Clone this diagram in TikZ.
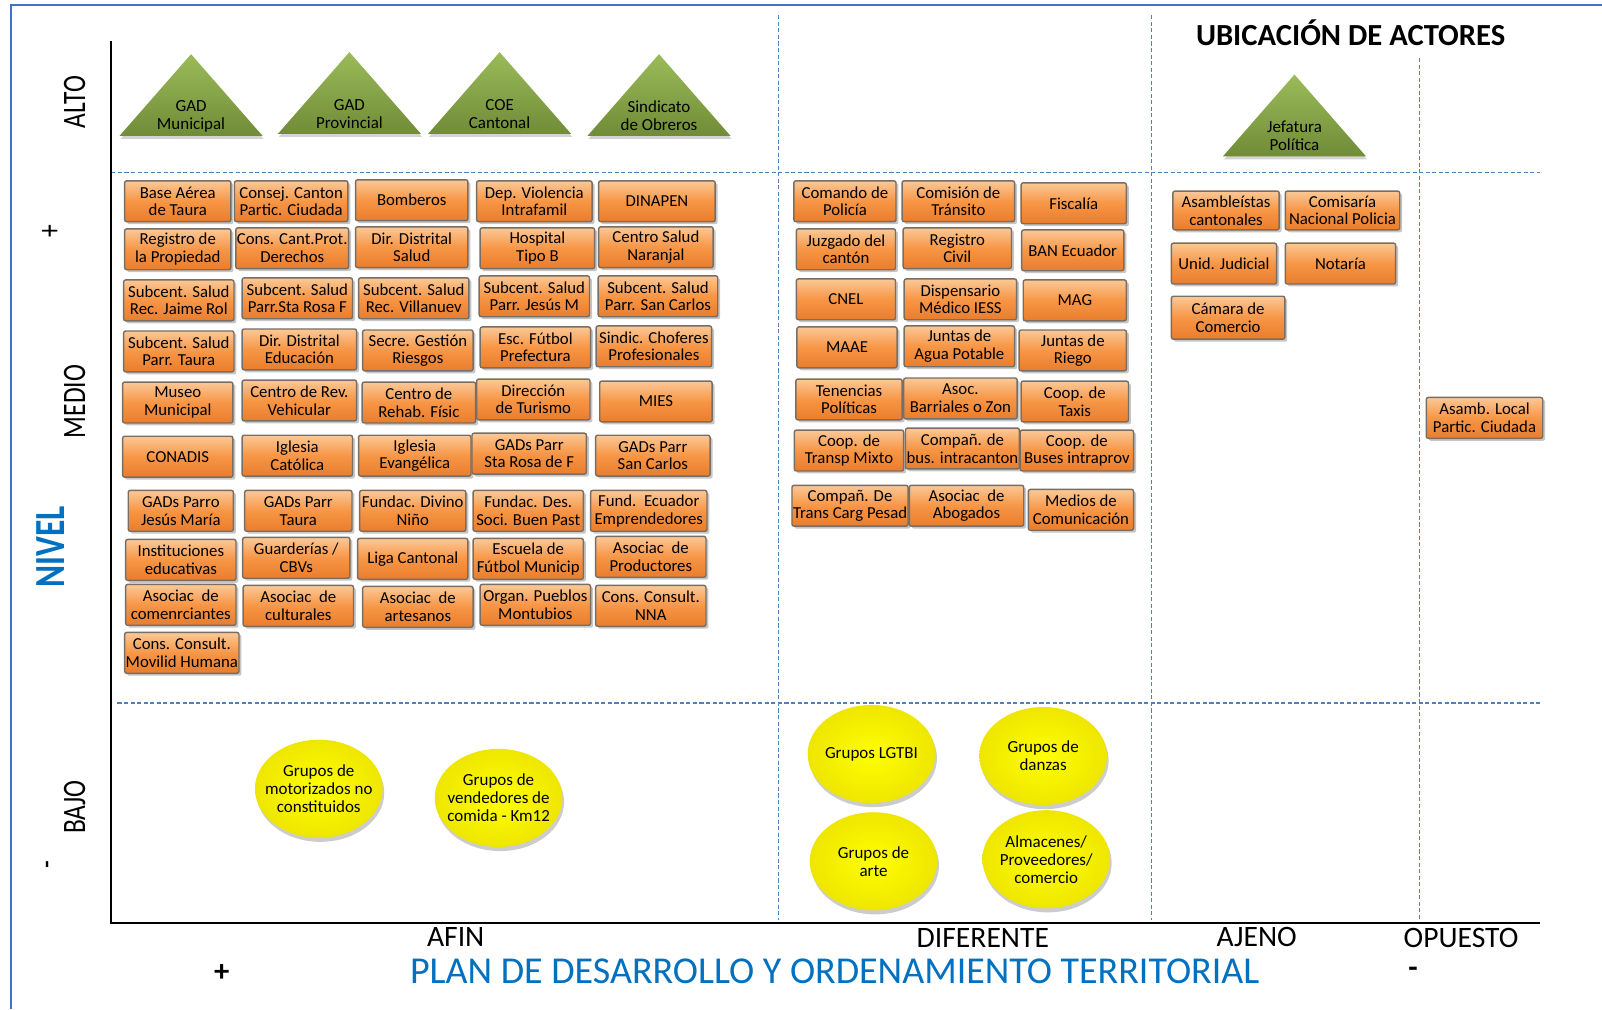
\documentclass[tikz,border=0pt]{standalone}
\usepackage{xcolor}
\usepackage{fontspec}
\setmainfont{Carlito}
\newfontfamily\narrowfont[FakeStretch=0.78]{Carlito}
\usepackage{tikz}
\usetikzlibrary{calc}
\usetikzlibrary{shapes.geometric}
\usetikzlibrary{shadows}

\definecolor{boxorange}{RGB}{247,150,70}
\definecolor{boxlight}{RGB}{251,200,150}
\definecolor{boxdark}{RGB}{232,125,45}
\definecolor{boxedge}{RGB}{120,110,100}
\definecolor{trigreen}{RGB}{112,140,55}
\definecolor{trilight}{RGB}{155,187,89}
\definecolor{gridblue}{RGB}{79,129,189}
\definecolor{titleblue}{RGB}{0,112,192}
\definecolor{frameblue}{RGB}{68,114,196}
\definecolor{groupedge}{RGB}{238,230,0}

\begin{document}
\begin{tikzpicture}[x=0.5pt,y=-0.5pt]
    \tikzstyle{axis}=[line width=1pt,color=black]
    \tikzstyle{grid}=[line width=0.6pt,color=gridblue,dash pattern=on 2pt off 1.2pt]
    \tikzstyle{actor}=[draw=boxedge,line width=0.7pt,rounded corners=1pt,
        top color=boxlight,bottom color=boxdark,middle color=boxorange,
        minimum width=54pt,minimum height=20pt,inner sep=0.5pt,align=center,
        font=\fontsize{8.2}{8.6}\selectfont,
        drop shadow={opacity=0.45,shadow xshift=1.2pt,shadow yshift=-1.2pt}]
    \tikzstyle{group}=[ellipse,inner color=yellow,outer color=groupedge,
        minimum width=62.5pt,minimum height=48pt,inner xsep=-7pt,inner ysep=-3pt,align=center,
        font=\fontsize{8.3}{8.8}\selectfont,
        drop shadow={opacity=0.4,shadow xshift=0.8pt,shadow yshift=-2pt}]
    \tikzstyle{tri}=[top color=trilight,bottom color=trigreen,
        drop shadow={opacity=0.35,shadow xshift=0.5pt,shadow yshift=-1.5pt}]
    \tikzstyle{tri text}=[align=center,font=\fontsize{8.3}{8.8}\selectfont]
    \tikzstyle{level text}=[rotate=90,font=\narrowfont\fontsize{16}{16}\selectfont]
    \tikzstyle{position text}=[font=\fontsize{14.5}{14.5}\selectfont]

    \useasboundingbox (0,0) rectangle (1568,988);

    % Frame
    \draw[frameblue,line width=0.8pt] (11,988) -- (11,5) -- (1568,5);

    \coordinate (origin) at (109,903);
    \coordinate (ytop) at (109,40);
    \coordinate (xend) at (1507,903);

    % Grid
    \draw[style=grid] (109,169) -- (1507,169);
    \draw[style=grid] (115,688) -- (1507,688);
    \draw[style=grid] (762,15) -- (762,900);
    \draw[style=grid] (1127,15) -- (1127,900);
    \draw[style=grid] (1389,57) -- (1389,900);

    % Axis
    \draw[style=axis] (ytop) -- (origin) -- (xend);

    \node[font=\bfseries\fontsize{15}{15}\selectfont] (title) at (1322,32) {UBICACIÓN DE ACTORES};

    % Level labels
    \node[style=level text] (alto) at (73,100) {ALTO};
    \node[style=level text] (mas) at (50,226) {+};
    \node[style=level text] (medio) at (73,393) {MEDIO};
    \node[style=level text,titleblue,font=\narrowfont\bfseries\fontsize{21}{21}\selectfont] (nivel) at (50,535) {NIVEL};
    \node[style=level text] (bajo) at (73,790) {BAJO};
    \node[style=level text] (menos) at (50,846) {-};

    % Position labels
    \node[style=position text] (afin) at (446,917) {AFIN};
    \node[style=position text] (diferente) at (962,918) {DIFERENTE};
    \node[style=position text] (ajeno) at (1230,917) {AJENO};
    \node[style=position text] (opuesto) at (1430,918) {OPUESTO};
    \node[style=position text,font=\bfseries\fontsize{15}{15}\selectfont] (masx) at (217,952) {+};
    \node[style=position text,font=\bfseries\fontsize{15}{15}\selectfont] (menosx) at (1383,952) {-};
    \node[titleblue,font=\fontsize{18.6}{18.6}\selectfont] (pdot) at (817,951) {PLAN DE DESARROLLO Y ORDENAMIENTO TERRITORIAL};

    % Alto
    \coordinate (gm) at (187,133);
    \coordinate (gp) at (342,131);
    \coordinate (coe) at (489,131);
    \coordinate (sin) at (645,133);
    \coordinate (jef) at (1267,153);
    \shade[style=tri] ($(gm)+(-70,0)$) -- ($(gm)+(0,-80)$) -- ($(gm)+(70,0)$) -- cycle;
    \shade[style=tri] ($(gp)+(-70,0)$) -- ($(gp)+(0,-80)$) -- ($(gp)+(70,0)$) -- cycle;
    \shade[style=tri] ($(coe)+(-70,0)$) -- ($(coe)+(0,-80)$) -- ($(coe)+(70,0)$) -- cycle;
    \shade[style=tri] ($(sin)+(-70,0)$) -- ($(sin)+(0,-80)$) -- ($(sin)+(70,0)$) -- cycle;
    \shade[style=tri] ($(jef)+(-70,0)$) -- ($(jef)+(0,-80)$) -- ($(jef)+(70,0)$) -- cycle;
    \node[style=tri text] (gmtext) at ($(gm)+(0,-19)$) {GAD\\Municipal};
    \node[style=tri text] (gptext) at ($(gp)+(0,-19)$) {GAD\\Provincial};
    \node[style=tri text] (coetext) at ($(coe)+(0,-19)$) {COE\\Cantonal};
    \node[style=tri text] (sintext) at ($(sin)+(0,-20)$) {Sindicato\\de Obreros};
    \node[style=tri text] (jeftext) at ($(jef)+(0,-20)$) {Jefatura\\Política};

    % Medio - afin
    \node[style=actor,minimum width=52pt] (af11) at (174,197) {Base Aérea\\de Taura};
    \node[style=actor,minimum width=55.5pt] (af12) at (285,197) {Consej. Canton\\Partic. Ciudada};
    \node[style=actor,minimum width=55pt] (af13) at (403,196) {Bomberos};
    \node[style=actor,minimum width=56.5pt] (af14) at (523,197) {Dep. Violencia\\Intrafamil};
    \node[style=actor,minimum width=57pt] (af15) at (643,197) {DINAPEN};

    \node[style=actor,minimum width=52pt] (af21) at (174,244) {Registro de\\la Propiedad};
    \node[style=actor] (af22) at (286,243) {Cons. Cant.Prot.\\Derechos};
    \node[style=actor,minimum width=55pt] (af23) at (403,242) {Dir. Distrital\\Salud};
    \node[style=actor,minimum width=56pt] (af24) at (526,243) {Hospital\\Tipo B};
    \node[style=actor,minimum width=56pt] (af25) at (642,242) {Centro Salud\\Naranjal};

    \node[style=actor] (af31) at (175,294) {Subcent. Salud\\Rec. Jaime Rol};
    \node[style=actor] (af32) at (291,292) {Subcent. Salud\\Parr.Sta Rosa F};
    \node[style=actor] (af33) at (405,292) {Subcent. Salud\\Rec. Villanuev};
    \node[style=actor] (af34) at (523,290) {Subcent. Salud\\Parr. Jesús M};
    \node[style=actor,minimum width=58.5pt] (af35) at (644,290) {Subcent. Salud\\Parr. San Carlos};

    \node[style=actor] (af41) at (175,344) {Subcent. Salud\\Parr. Taura};
    \node[style=actor,minimum width=56pt] (af42) at (293,342) {Dir. Distrital\\Educación};
    \node[style=actor] (af43) at (409,343) {Secre. Gestión\\Riesgos};
    \node[style=actor] (af44) at (524,340) {Esc. Fútbol\\Prefectura};
    \node[style=actor,minimum width=56.5pt] (af45) at (640,339) {Sindic. Choferes\\Profesionales};

    \node[style=actor] (af51) at (174,394) {Museo\\Municipal};
    \node[style=actor,minimum width=56pt] (af52) at (293,392) {Centro de Rev.\\Vehicular};
    \node[style=actor,minimum width=55.5pt] (af53) at (410,394) {Centro de\\Rehab. Físic};
    \node[style=actor,minimum width=55.5pt] (af54) at (522,391) {Dirección\\de Turismo};
    \node[style=actor,minimum width=55pt] (af55) at (642,393) {MIES};

    \node[style=actor] (af61) at (174,447) {CONADIS};
    \node[style=actor] (af62) at (291,446) {Iglesia\\Católica};
    \node[style=actor,minimum width=55pt] (af63) at (406,446) {Iglesia\\Evangélica};
    \node[style=actor,minimum width=56pt] (af64) at (518,444) {GADs Parr\\Sta Rosa de F};
    \node[style=actor,minimum width=56pt] (af65) at (639,446) {GADs Parr\\San Carlos};

    \node[style=actor,minimum width=51.5pt] (af71) at (177,500) {GADs Parro\\Jesús María};
    \node[style=actor,minimum width=52.5pt] (af72) at (292,500) {GADs Parr\\Taura};
    \node[style=actor,minimum width=52pt] (af73) at (404,500) {Fundac. Divino\\Niño};
    \node[style=actor] (af74) at (517,500) {Fundac. Des.\\Soci. Buen Past};
    \node[style=actor,minimum width=57pt] (af75) at (635,500) {Fund.~~Ecuador\\Emprendedores};

    \node[style=actor] (af81) at (177,548) {Instituciones\\educativas};
    \node[style=actor,minimum width=52.5pt] (af82) at (290,546) {Guarderías /\\CBVs};
    \node[style=actor] (af83) at (404,547) {Liga Cantonal};
    \node[style=actor] (af84) at (517,547) {Escuela de\\Fútbol Municip};
    \node[style=actor] (af85) at (637,545) {Asociac~~de\\Productores};

    \node[style=actor] (af91) at (177,592) {Asociac~~de\\comenrciantes};
    \node[style=actor] (af92) at (292,593) {Asociac~~de\\culturales};
    \node[style=actor] (af93) at (409,594) {Asociac~~de\\artesanos};
    \node[style=actor] (af94) at (524,592) {Organ. Pueblos\\Montubios};
    \node[style=actor] (af95) at (637,593) {Cons. Consult.\\NNA};

    \node[style=actor,minimum width=55pt] (af101) at (178,639) {Cons. Consult.\\Movilid Humana};

    % Medio - diferente
    \node[style=actor,minimum width=50pt] (df11) at (827,197) {Comando de\\Policía};
    \node[style=actor,minimum width=55pt] (df12) at (938,197) {Comisión de\\Tránsito};
    \node[style=actor,minimum width=51.5pt] (df13) at (1051,199) {Fiscalía};

    \node[style=actor,minimum width=48.5pt] (df21) at (828,244) {Juzgado del\\cantón};
    \node[style=actor,minimum width=53pt] (df22) at (937,243) {Registro\\Civil};
    \node[style=actor,minimum width=50pt] (df23) at (1050,245) {BAN Ecuador};

    \node[style=actor,minimum width=48.5pt] (df31) at (828,293) {CNEL};
    \node[style=actor,minimum width=55pt] (df32) at (940,293) {Dispensario\\Médico IESS};
    \node[style=actor,minimum width=50.5pt] (df33) at (1052,294) {MAG};

    \node[style=actor,minimum width=49pt] (df41) at (829,340) {MAAE};
    \node[style=actor] (df42) at (939,339) {Juntas de\\Agua Potable};
    \node[style=actor,minimum width=52.5pt] (df43) at (1050,343) {Juntas de\\Riego};

    \node[style=actor,minimum width=52pt] (df51) at (831,391) {Tenencias\\Políticas};
    \node[style=actor,minimum width=55.5pt] (df52) at (940,390) {Asoc.\\Barriales o Zon};
    \node[style=actor,minimum width=52.5pt] (df53) at (1052,393) {Coop. de\\Taxis};

    \node[style=actor,minimum width=53.5pt] (df61) at (831,441) {Coop. de\\Transp Mixto};
    \node[style=actor] (df62) at (942,439) {Compañ. de\\bus. intracanton};
    \node[style=actor,minimum width=55.5pt] (df63) at (1054,441) {Coop. de\\Buses intraprov};

    \node[style=actor,minimum width=55pt] (df71) at (832,495) {Compañ. De\\Trans Carg Pesad};
    \node[style=actor,minimum width=56pt] (df72) at (946,495) {Asociac~~de\\Abogados};
    \node[style=actor,minimum width=51.5pt] (df73) at (1058,499) {Medios de\\Comunicación};

    % Medio - ajeno y opuesto
    \node[style=actor,minimum width=52pt,minimum height=19pt] (aj11) at (1200,206) {Asambleístas\\cantonales};
    \node[style=actor,minimum width=56pt,minimum height=19pt] (aj12) at (1314,206) {Comisaría\\Nacional Policia};
    \node[style=actor,minimum width=51.5pt] (aj21) at (1198,258) {Unid. Judicial};
    \node[style=actor] (aj22) at (1312,258) {Notaría};
    \node[style=actor,minimum width=55.5pt,minimum height=21pt] (aj31) at (1202,311) {Cámara de\\Comercio};
    \node[style=actor,minimum width=57pt] (op11) at (1453,409) {Asamb. Local\\Partic. Ciudada};

    % Bajo
    \node[style=group] (gr1) at (312,772) {Grupos de\\motorizados no\\constituidos};
    \node[style=group] (gr2) at (488,781) {Grupos de\\vendedores de\\comida - Km12};
    \node[style=group] (gr3) at (853,738) {Grupos LGTBI};
    \node[style=group] (gr4) at (1021,740) {Grupos de\\danzas};
    \node[style=group] (gr5) at (855,843) {Grupos de\\arte};
    \node[style=group] (gr6) at (1024,841) {Almacenes/\\Proveedores/\\comercio};

\end{tikzpicture}
\end{document}
